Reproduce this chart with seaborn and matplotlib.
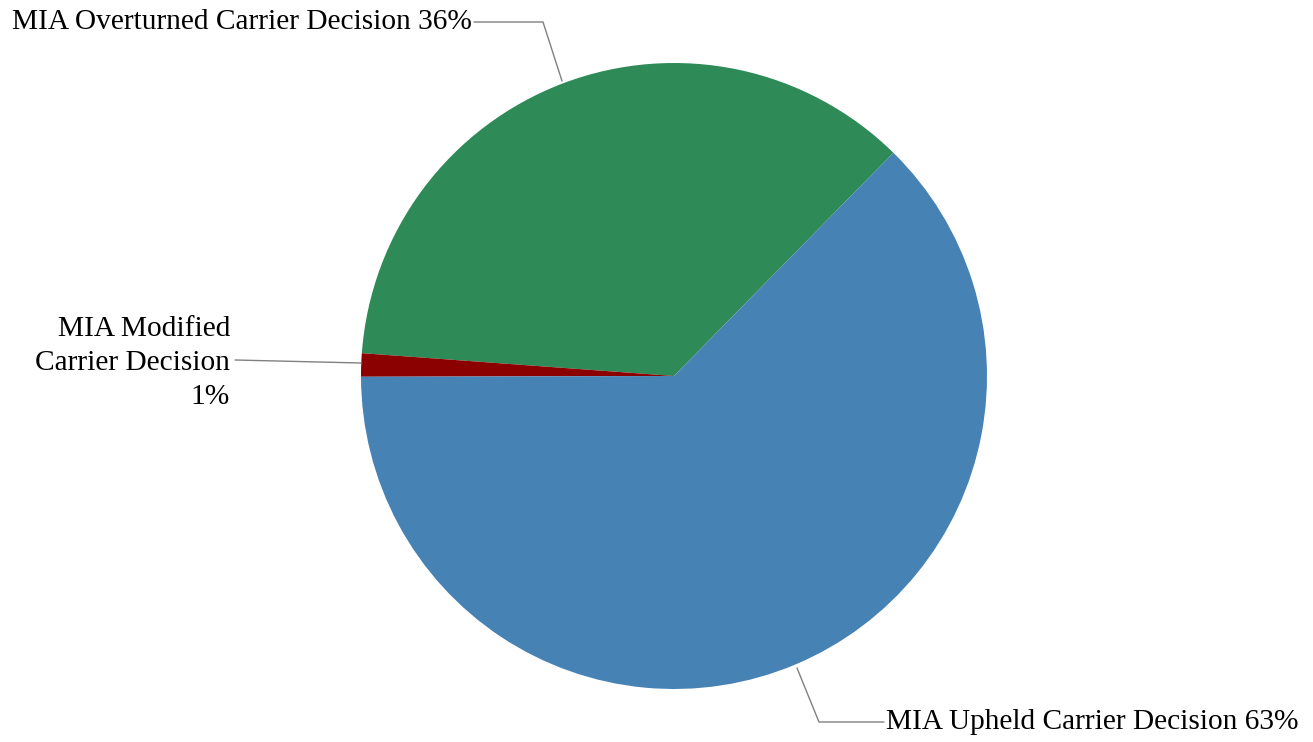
import numpy as np
import pandas as pd
import matplotlib
matplotlib.use("Agg")
import matplotlib.pyplot as plt
import seaborn as sns

# slice data, in drawing order (counter-clockwise from the start angle)
labels = ["MIA Overturned Carrier Decision 36%",
          "MIA Modified\nCarrier Decision\n1%",
          "MIA Upheld Carrier Decision 63%"]
shares = [36.2, 1.2, 62.6]
colors = ["#2e8b57", "#8b0000", "#4682b4"]

sns.set_theme(style="white")
plt.rcParams['font.family'] = ['Liberation Serif', 'DejaVu Serif']

fig = plt.figure(figsize=(13.13, 7.42), dpi=100)
ax = fig.add_axes([0, 0, 1, 1])

# work in pixel-like units, y up
cx, cy, r = 674, 742 - 376, 313
wedges, _ = ax.pie(shares, colors=colors, startangle=45.5, counterclock=True,
                   center=(cx, cy), radius=r, wedgeprops=dict(linewidth=0))
ax.set_xlim(0, 1313)
ax.set_ylim(0, 742)
ax.set_aspect("equal")
ax.axis("off")

# leader lines and labels
line_kw = dict(color="#808080", lw=1)
txt_kw = dict(fontsize=21.2, color="black")

# overturned
ax.plot([474, 543, 562], [742 - 22, 742 - 22, 742 - 81], **line_kw)
ax.text(472, 742 - 22, labels[0], ha="right", va="center", **txt_kw)

# modified
ax.plot([235, 361], [742 - 360, 742 - 363], **line_kw)
ax.text(230, 742 - 363, labels[1], ha="right", va="center",
        multialignment="right", linespacing=1.38, **txt_kw)

# upheld
ax.plot([797, 819, 884], [742 - 668, 742 - 722, 742 - 722], **line_kw)
ax.text(886, 742 - 722, labels[2], ha="left", va="center", **txt_kw)

fig.savefig("out.png", dpi=100, facecolor="white")
